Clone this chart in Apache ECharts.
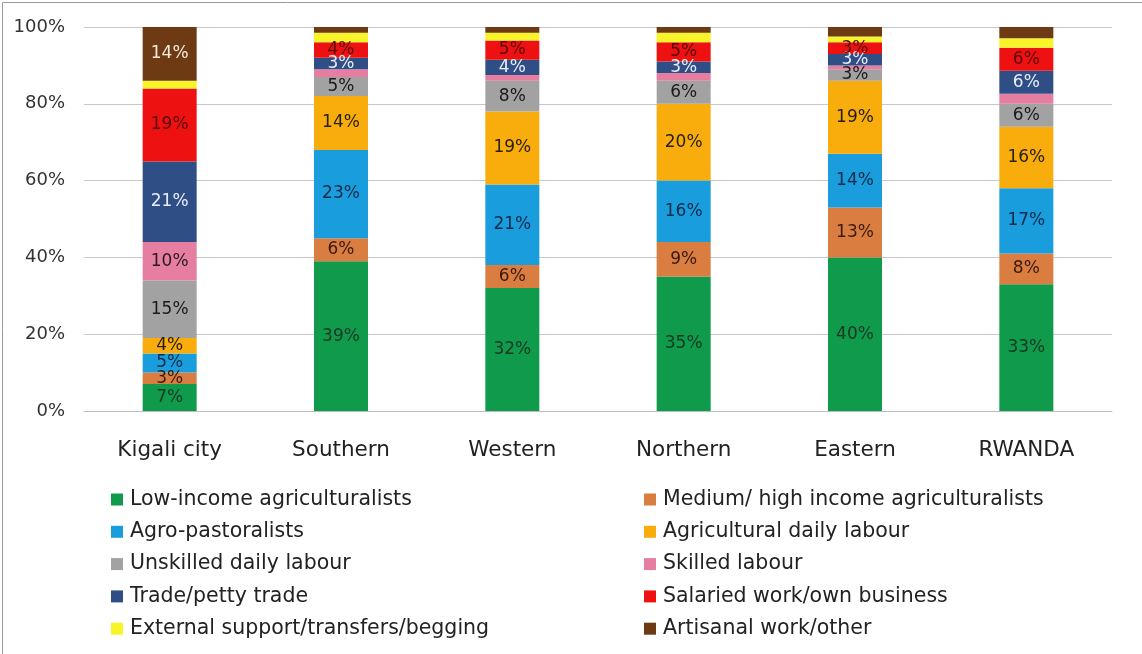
<!DOCTYPE html>
<html>
<head>
<meta charset="utf-8">
<script src="https://cdn.jsdelivr.net/npm/echarts@6/dist/echarts.min.js"></script>
<style>
  html, body { margin: 0; padding: 0; background: #fff; }
  #chart { width: 1142px; height: 654px; }
</style>
</head>
<body>
<div id="chart"></div>
<script>
// Livelihood groups by province (share of households, %)
const categories = ['Kigali city', 'Southern', 'Western', 'Northern', 'Eastern', 'RWANDA'];

const lowIncomeAgri   = [7, 39, 32, 35, 40, 33];
const mediumHighAgri  = [3, 6, 6, 9, 13, 8];
const agroPastoral    = [5, 23, 21, 16, 14, 17];
const agriDailyLabour = [4, 14, 19, 20, 19, 16];
const unskilledLabour = [15, 5, 8, 6, 3, 6];
const skilledLabour   = [10, 2, 1.5, 2, 1, 2.6];
const pettyTrade      = [21, 3, 4, 3, 3, 6];
const salariedWork    = [19, 4, 5, 5, 3, 6];
const externalSupport = [2, 2.5, 2, 2.5, 1.5, 2.5];
const artisanalOther  = [14, 1.5, 1.5, 1.5, 2.5, 2.9];

const yTicks = [0, 20, 40, 60, 80, 100];

const seriesDefs = [
  { name: 'Low-income agriculturalists', data: lowIncomeAgri, color: '#109a4c', text: '#163820' },
  { name: 'Medium/ high income agriculturalists', data: mediumHighAgri, color: '#d97d40', text: '#3a1a0c' },
  { name: 'Agro-pastoralists', data: agroPastoral, color: '#1a9ddc', text: '#0d2a4a' },
  { name: 'Agricultural daily labour', data: agriDailyLabour, color: '#f8ad0c', text: '#2a2010' },
  { name: 'Unskilled daily labour', data: unskilledLabour, color: '#a2a2a2', text: '#1a1a1a' },
  { name: 'Skilled labour', data: skilledLabour, color: '#e57ea0', text: '#2a1a20' },
  { name: 'Trade/petty trade', data: pettyTrade, color: '#2f4e86', text: '#e8eef8' },
  { name: 'Salaried work/own business', data: salariedWork, color: '#ee1111', text: '#5a0a0a' },
  { name: 'External support/transfers/begging', data: externalSupport, color: '#f7f42a', text: '#333' },
  { name: 'Artisanal work/other', data: artisanalOther, color: '#6d3a13', text: '#f5ead8' }
];

const FONT = '"DejaVu Sans", "Open Sans", sans-serif';

const series = seriesDefs.map(d => ({
  name: d.name,
  type: 'bar',
  stack: 'total',
  barWidth: 54,
  data: d.data,
  itemStyle: { color: d.color },
  label: {
    show: true,
    position: 'inside',
    fontFamily: FONT,
    fontSize: 17,
    color: d.text,
    formatter: p => (p.value >= 3 ? Math.round(p.value) + '%' : '')
  }
}));

const leftNames = seriesDefs.filter((_, i) => i % 2 === 0).map(d => d.name);
const rightNames = seriesDefs.filter((_, i) => i % 2 === 1).map(d => d.name);

const legendBase = {
  orient: 'vertical',
  top: 484,
  icon: 'rect',
  itemWidth: 12,
  itemHeight: 12,
  itemGap: 11.3,
  textStyle: { fontFamily: FONT, fontSize: 20.5, lineHeight: 20, color: '#222', padding: [0, 0, 0, 2] }
};

const chart = echarts.init(document.getElementById('chart'), null, { renderer: 'canvas' });
chart.setOption({
  animation: false,
  backgroundColor: '#fff',
  graphic: [{
    type: 'rect',
    left: 0, top: 0,
    shape: { x: 0.5, y: 0.5, width: 1141, height: 653 },
    style: { fill: 'none', stroke: '#9a9a9a', lineWidth: 1 },
    silent: true
  }],
  legend: [
    Object.assign({}, legendBase, { left: 106, data: leftNames }),
    Object.assign({}, legendBase, { left: 639, data: rightNames })
  ],
  grid: { left: 84, right: 30, top: 27, height: 384, containLabel: false },
  xAxis: {
    type: 'category',
    data: categories,
    axisLine: { lineStyle: { color: '#bdbdbd', width: 1 } },
    axisTick: { show: false },
    axisLabel: { fontFamily: FONT, fontSize: 21.5, color: '#222', margin: 28 }
  },
  yAxis: {
    type: 'value',
    min: yTicks[0],
    max: yTicks[yTicks.length - 1],
    interval: 20,
    axisLine: { show: false },
    axisTick: { show: false },
    splitLine: { lineStyle: { color: '#c8c8c8', width: 1 } },
    axisLabel: { fontFamily: FONT, fontSize: 18, color: '#333', margin: 19, formatter: v => v + '%' }
  },
  series: series
});
</script>
</body>
</html>
